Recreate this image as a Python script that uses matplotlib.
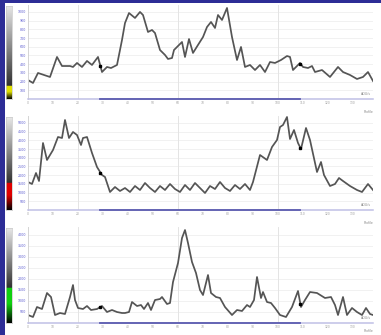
import numpy as np
import matplotlib.pyplot as plt
from matplotlib.colors import LinearSegmentedColormap
from matplotlib.patches import Rectangle

# profile positions (same sampling for all three channels)
x1 = [0, 2, 4, 6.4, 8.8, 11.6, 13.6, 16.8, 18, 19.6, 21.6, 23.6, 25.6, 28, 29.6, 31.6, 33.2, 35.6,
      37.6, 38.8, 40.4, 42.8, 44.8, 46, 48, 49.6, 50.8, 52.8, 54.8, 56, 57.6, 58.4, 61.6, 62.8, 64.4,
      66, 68, 70, 71.6, 73.2, 74.8, 76, 77.6, 79.6, 81.6, 83.6, 85.2, 86.8, 88.8, 90.8, 92.8, 94.8,
      96.8, 98.8, 101.2, 103.6, 104.8, 106, 108.8, 110, 112, 113.6, 114.8, 117.6, 120.8, 124, 126,
      128.8, 131.6, 134, 136, 138]
y1 = [218, 184, 299, 276, 253, 483, 379, 379, 368, 414, 368, 437, 391, 483, 310, 368, 356, 391,
      678, 873, 988, 931, 1000, 965, 770, 793, 758, 563, 506, 460, 471, 563, 655, 483, 689,
      529, 621, 712, 827, 885, 816, 965, 908, 1046, 712, 448, 598, 368, 391, 333, 391, 310,
      425, 414, 448, 494, 483, 333, 414, 368, 356, 379, 310, 333, 253, 368, 310,
      276, 230, 253, 310, 207]

x2 = [0, 1.6, 3.2, 4.4, 6, 7.6, 10, 12, 13.6, 14.8, 16.4, 18, 19.6, 21.2, 22, 23.6, 25.6, 27.6,
      29.6, 30.8, 32.8, 34.8, 36.8, 38.8, 40.8, 42.8, 44.8, 46.8, 48.8, 50.8, 52.8, 54.8, 56.8,
      58.8, 60.8, 62.8, 64.8, 66.8, 68.8, 70.8, 72.8, 74.8, 76.8, 78.8, 80.8, 82.8, 84.8, 86.8,
      88.8, 90, 92.8, 95.6, 97.6, 99.6, 100.8, 102, 103.6, 104.8, 106.4, 108, 109.2, 111.2, 112.8,
      115.6, 117.2, 118.4, 120.8, 122.8, 124.4, 126, 128.8, 131.6, 133.6, 136, 138]
y2 = [1609, 1494, 2126, 1666, 3849, 2873, 3447, 4194, 4136, 5171, 4136, 4481, 4309, 3734, 4136,
      4194, 3275, 2470, 2011, 1896, 1034, 1321, 1092, 1264, 1034, 1379, 1149, 1551, 1264, 1034,
      1379, 1149, 1494, 1206, 1034, 1436, 1149, 1551, 1264, 977, 1379, 1206, 1609, 1264, 1092,
      1436, 1206, 1494, 1149, 1609, 3160, 2873, 3619, 4022, 4768, 4883, 5343, 4079, 4596, 3849,
      3504, 4711, 4022, 2183, 2758, 2011, 1379, 1494, 1838, 1666, 1379, 1149, 1034, 1494, 1149]

x3 = [0, 2, 3.6, 5.6, 7.6, 9.2, 10.8, 12.8, 14.8, 16.8, 18, 18.8, 20, 22, 23.6, 25.2, 27.6, 29.6,
      31.6, 33.6, 35.6, 37.6, 38.8, 40.4, 41.6, 43.6, 45.2, 46.4, 48, 49.2, 50.8, 52.8, 53.6, 55.6,
      56.8, 58, 60, 61.6, 62.8, 64, 65.6, 67.2, 68.8, 70, 72, 73.2, 75.2, 76.8, 78.8, 81.6, 83.6,
      85.6, 87.6, 88.8, 90.4, 91.6, 93.2, 94, 95.6, 97.2, 98.8, 100.8, 103.2, 105.6, 108, 109.2,
      110.8, 112.8, 115.6, 118.8, 121.2, 122.8, 124, 126, 127.6, 129.6, 131.6, 133.6, 135.2,
      136.8, 138]
y3 = [362, 272, 725, 634, 1359, 1178, 362, 453, 408, 1178, 1721, 1042, 680, 634, 770, 589, 634,
      770, 498, 589, 498, 453, 453, 498, 951, 770, 815, 634, 906, 589, 1042, 1087, 1178, 861,
      906, 1857, 2718, 3851, 4213, 3624, 2763, 2265, 1495, 1268, 2174, 1359, 1178, 1133, 725,
      362, 589, 544, 815, 725, 1042, 2084, 1133, 1404, 951, 906, 680, 362, 272, 725, 1450, 725,
      1042, 1404, 1359, 1133, 1178, 815, 362, 1178, 362, 680, 498, 362, 680, 408, 362]

roi = [29, 109]
x_ticks = list(range(0, 131, 10))
x_grid = [20, 60, 100]

W, H = 381, 335
fig = plt.figure(figsize=(W / 100, H / 100), dpi=100, facecolor='#2d2d96')
fig.patches.append(Rectangle((5 / W, 0), 1, 1 - 3 / H, transform=fig.transFigure,
                             facecolor='white', edgecolor='none', zorder=-5))


def px_box(left, top, right, bottom):
    return [left / W, 1 - bottom / H, (right - left) / W, (bottom - top) / H]


def colorbar(top, bottom, hue, frac):
    cax = fig.add_axes(px_box(6, top, 12, bottom))
    cmap = LinearSegmentedColormap.from_list('bar', [
        (0.0, 'black'), (frac * 0.55, hue), (frac, hue),
        (frac + 0.001, '#303030'), (1.0, '#e8e8e8')])
    grad = np.linspace(1, 0, 256).reshape(-1, 1)
    cax.imshow(grad, aspect='auto', cmap=cmap, vmin=0, vmax=1)
    cax.set_xticks([])
    cax.set_yticks([])
    for s in cax.spines.values():
        s.set_color('#c8c8c8')
        s.set_linewidth(0.5)


def panel(top, bottom, x, y, ymax, ystep, hue, frac, title_y):
    colorbar(top + 1, bottom, hue, frac)
    ax = fig.add_axes(px_box(28, top, 373, bottom))
    ax.set_xlim(0, 138)
    ax.set_ylim(0, ymax)
    yt = np.arange(ystep, ymax, ystep)
    ax.set_yticks(yt)
    ax.set_yticklabels([str(int(v)) for v in yt], fontsize=2.3, color='#5a5ad0')
    ax.set_xticks(x_ticks)
    ax.set_xticklabels([str(v) for v in x_ticks], fontsize=2.2, color='#a0a0a0')
    ax.tick_params(length=0, pad=1.5)
    for v in yt:
        ax.axhline(v, color='#efefef', lw=0.6, zorder=0)
    for v in x_grid:
        ax.axvline(v, color='#e4e4e4', lw=0.7, zorder=0)
    for s in ['top', 'right']:
        ax.spines[s].set_visible(False)
    ax.spines['left'].set_color('#d4d4d4')
    ax.spines['left'].set_linewidth(0.7)
    ax.spines['bottom'].set_color('#c0c0e6')
    ax.spines['bottom'].set_linewidth(1.1)
    ax.plot(roi, [0, 0], color='#5c5cb0', lw=1.3, clip_on=False, zorder=3)
    ax.plot(x, y, color='#555555', lw=1.25, solid_joinstyle='round', zorder=2)
    ax.plot(roi, np.interp(roi, x, y), 's', color='black', ms=1.6, zorder=4)
    ax.text(0.995, 0.03, 'ADU/s', transform=ax.transAxes, ha='right', va='bottom',
            fontsize=2.3, color='#8a8a8a')
    fig.text(374 / W, 1 - title_y / H, 'Profile', ha='right', va='center',
             fontsize=2.3, color='#8a8a8a')
    return ax


panel(5, 99, x1, y1, 1080, 100, '#e0e000', 0.14, 112)
panel(116, 210, x2, y2, 5400, 500, '#e00000', 0.29, 223)
panel(227, 323, x3, y3, 4350, 500, '#10d010', 0.37, 331)

fig.savefig('out.png', dpi=100, facecolor=fig.get_facecolor())
